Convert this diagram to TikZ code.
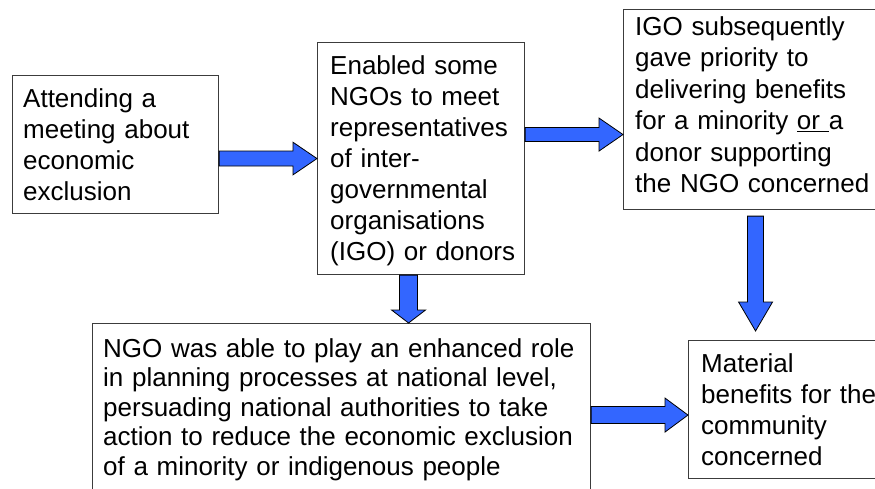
\documentclass[tikz,border=0pt]{standalone}
\usepackage{fontspec}
\setmainfont{Liberation Sans}
\usetikzlibrary{calc}
\definecolor{arrowblue}{RGB}{51,102,255}
\definecolor{boxline}{RGB}{60,60,60}
\tikzset{
  boxshape/.style={draw=boxline, line width=1.1pt, fill=white, inner sep=0pt, anchor=north west},
  boxtext/.style={anchor=north west, inner sep=0pt, align=left, text width=#1, font=\fontsize{26}{31}\selectfont},
  blockarrow/.style={fill=arrowblue, draw=black, line width=0.8pt, line join=miter},
}
% horizontal block arrow: #1 start (x used), #2 tip (x,y used), #3 shaft half, #4 head half, #5 head length
\newcommand\hblockarrow[5]{%
  \path[blockarrow] let \p1=#1, \p2=#2 in
    (\x1,\y2+#3pt) -- (\x2-#5pt,\y2+#3pt) -- (\x2-#5pt,\y2+#4pt) -- (\x2,\y2)
    -- (\x2-#5pt,\y2-#4pt) -- (\x2-#5pt,\y2-#3pt) -- (\x1,\y2-#3pt) -- cycle;}
% vertical (downward) block arrow: #1 start (x,y used), #2 tip (y used)
\newcommand\vblockarrow[5]{%
  \path[blockarrow] let \p1=#1, \p2=#2 in
    (\x1-#3pt,\y1) -- (\x1-#3pt,\y2+#5pt) -- (\x1-#4pt,\y2+#5pt) -- (\x1,\y2)
    -- (\x1+#4pt,\y2+#5pt) -- (\x1+#3pt,\y2+#5pt) -- (\x1+#3pt,\y1) -- cycle;}
\begin{document}
\begin{tikzpicture}[x=1pt,y=-1pt]
\useasboundingbox (0,0) rectangle (875,489);
\clip (0,0) rectangle (875,489);
\fill[white] (0,0) rectangle (875,489);

% boxes
\node[boxshape, minimum width=206pt, minimum height=138pt] (a) at (12,75) {};
\node[boxshape, minimum width=207pt, minimum height=232pt] (b) at (317,42) {};
\node[boxshape, minimum width=264pt, minimum height=200pt] (c) at (623,9) {};
\node[boxshape, minimum width=498pt, minimum height=183pt] (d) at (92,323) {};
\node[boxshape, minimum width=199pt, minimum height=138pt] (e) at (688,340) {};

% texts
\node[boxtext=190pt] (ta) at (23,87)
  {\rule{0pt}{20pt}Attending a\\meeting about\\economic\\exclusion};
\node[boxtext=190pt] (tb) at (330,54)
  {\rule{0pt}{20pt}Enabled some\\NGOs to meet\\representatives\\of inter-\\governmental\\organisations\\(IGO) or donors};
\node[boxtext=240pt, font=\fontsize{26}{31.5}\selectfont] (tc) at (635,15)
  {\rule{0pt}{20pt}IGO subsequently\\gave priority to\\delivering benefits\\for a minority \underline{or\ }a\\donor supporting\\the NGO concerned};
\node[boxtext=480pt, font=\fontsize{26}{29.5}\selectfont] (td) at (103,337)
  {\rule{0pt}{20pt}NGO was able to play an enhanced role\\in planning processes at national level,\\persuading national authorities to take\\action to reduce the economic exclusion\\of a minority or indigenous people};
\node[boxtext=180pt] (te) at (701,352)
  {\rule{0pt}{20pt}Material\\benefits for the\\community\\concerned};

% block arrows
\hblockarrow{(a.east |- b.west)}{(b.west)}{7.5}{16.3}{24}
\hblockarrow{(b.east)}{([yshift=-25pt]c.west)}{7}{16.5}{24}
\vblockarrow{([xshift=-12.5pt]b.south)}{(d.north)}{9}{17}{13}
\vblockarrow{([yshift=-6pt]c.south)}{([yshift=9pt]e.north)}{8}{17}{29}
\hblockarrow{(d.east)}{(e.west |- d.east)}{8.5}{17}{23}
\end{tikzpicture}
\end{document}
